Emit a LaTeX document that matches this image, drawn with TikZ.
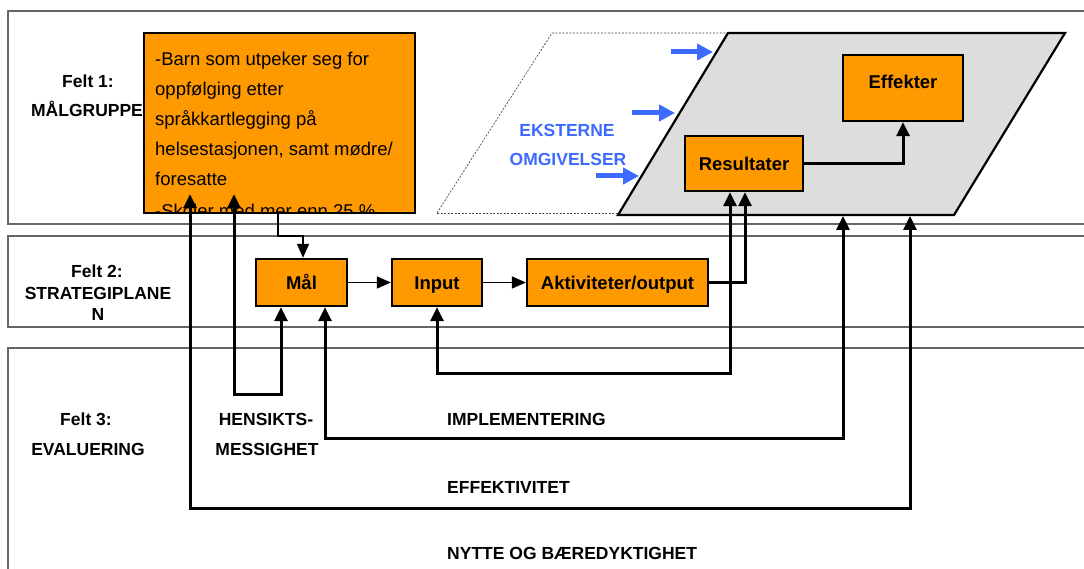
\documentclass[tikz,border=0pt]{standalone}
\usepackage{fontspec}
\setmainfont{Liberation Sans}
\usetikzlibrary{arrows.meta}
\definecolor{orng}{HTML}{FF9900}
\definecolor{grayfill}{HTML}{DDDDDD}
\definecolor{bandline}{HTML}{666666}
\definecolor{extblue}{HTML}{3D6BFF}
\begin{document}
\begin{tikzpicture}[x=1pt,y=-1pt,
  band/.style={draw=bandline, line width=1.1pt},
  obox/.style={draw=black, fill=orng, line width=2.3pt, inner sep=0pt,
    text height=13.3pt, text depth=0pt,
    font=\bfseries\fontsize{18.5}{20}\selectfont},
  lbl/.style={font=\bfseries\fontsize{17.5}{20}\selectfont, anchor=base, inner sep=0pt},
  bodytxt/.style={font=\fontsize{18.5}{20}\selectfont, anchor=base west, inner sep=0pt},
  thinarrow/.style={line width=1.5pt, -{Triangle[length=14pt,width=12pt]}},
  thickarrow/.style={line width=3pt, -{Triangle[length=14pt,width=13pt]}},
  loopline/.style={line width=3pt, {Triangle[length=14pt,width=13pt]}-{Triangle[length=14pt,width=13pt]}},
  bluearrow/.style={draw=extblue, line width=5pt, -{Triangle[length=16pt,width=16pt]}},
]
\useasboundingbox (0,0) rectangle (1084,569);
\fill[white] (0,0) rectangle (1084,569);

% bands
\draw[band] (1084,11) -| (8,224) -- (1084,224);
\draw[band] (1084,236) -| (8,327) -- (1084,327);
\draw[band] (1084,348) -| (8,569);

% band labels
\node[lbl] (f1a) at (88,88) {Felt 1:};
\node[lbl] (f1b) at (87,117) {MÅLGRUPPE};
\node[lbl] (f2a) at (97,278) {Felt 2:};
\node[lbl] (f2b) at (98,300) {STRATEGIPLANE};
\node[lbl] (f2c) at (98,320) {N};
\node[lbl] (f3a) at (86,425) {Felt 3:};
\node[lbl] (f3b) at (88,455) {EVALUERING};

% external environment
\draw[dash pattern=on 2pt off 1.5pt, line width=0.7pt, draw=black!70] (437,213) -- (552,33) -- (728,33);
\draw[dash pattern=on 2pt off 1.5pt, line width=0.7pt, draw=black!70] (437,213) -- (620,213);
\draw[fill=grayfill, line width=2.2pt, line join=miter] (728,33) -- (1065,33) -- (954,215) -- (618,215) -- cycle;
\coordinate (g1) at (843,216);
\coordinate (g2) at (910,216);

\node[lbl, text=extblue] (ext1) at (567,137) {EKSTERNE};
\node[lbl, text=extblue] (ext2) at (568,166) {OMGIVELSER};
\draw[bluearrow] (671,52) -- (713,52);
\draw[bluearrow] (632,113) -- (675,113);
\draw[bluearrow] (596,176) -- (639,176);

% target group box
\node[draw=black, fill=orng, line width=2.3pt, minimum width=271pt, minimum height=180pt, inner sep=0pt] (mg) at (279.5,123) {};
\begin{scope}
\clip (145.3,34.3) rectangle (413.7,211.7);
\node[bodytxt] (t1) at (155,66) {-Barn som utpeker seg for};
\node[bodytxt] (t2) at (155,96) {oppfølging etter};
\node[bodytxt] (t3) at (155,126) {språkkartlegging på};
\node[bodytxt] (t4) at (155,156) {helsestasjonen, samt mødre/};
\node[bodytxt] (t5) at (155,186) {foresatte};
\node[bodytxt] (t6) at (155,218) {-Skoler med mer enn 25 \%};
\end{scope}

% boxes
\node[obox, minimum width=91pt, minimum height=47pt] (mal) at (301.5,282.5) {Mål};
\node[obox, minimum width=90pt, minimum height=47pt] (inp) at (437,282.5) {Input};
\node[obox, minimum width=181pt, minimum height=47pt] (akt) at (617.5,282.5) {Aktiviteter/output};
\node[obox, minimum width=118pt, minimum height=55pt] (res) at (744,163.5) {Resultater};
\node[obox, minimum width=120pt, minimum height=66pt] (eff) at (903,88) {};
\node[lbl, font=\bfseries\fontsize{18.5}{20}\selectfont] (efft) at (903,88.5) {Effekter};

% connectors
\draw[thinarrow] ([xshift=-1.5pt]mg.south) -- ++(0,22) -| ([xshift=1.5pt]mal.north);
\draw[thinarrow] (mal) -- (inp);
\draw[thinarrow] (inp) -- (akt);
\draw[thickarrow] (akt.east) -| ([xshift=1pt]res.south);
\draw[thickarrow] (res.east) -| (eff.south);
\draw[loopline] (inp.south) -- ++(0,66) -| ([xshift=-14pt]res.south);
\draw[loopline] ([xshift=-45.5pt,yshift=20pt]mg.south) -- ++(0,200) -| ([xshift=-20.5pt]mal.south);
\draw[loopline] ([xshift=23.5pt]mal.south) -- ++(0,131) -| (g1);
\draw[loopline] ([xshift=-89.5pt,yshift=20pt]mg.south) -- ++(0,314) -| (g2);

% evaluation labels
\node[lbl] (h1) at (266,425) {HENSIKTS-};
\node[lbl] (h2) at (267,455) {MESSIGHET};
\node[lbl, anchor=base west] (imp) at (447,425) {IMPLEMENTERING};
\node[lbl, anchor=base west] (effk) at (447,493) {EFFEKTIVITET};
\node[lbl, anchor=base west] (nyt) at (447,559) {NYTTE OG BÆREDYKTIGHET};
\end{tikzpicture}
\end{document}
